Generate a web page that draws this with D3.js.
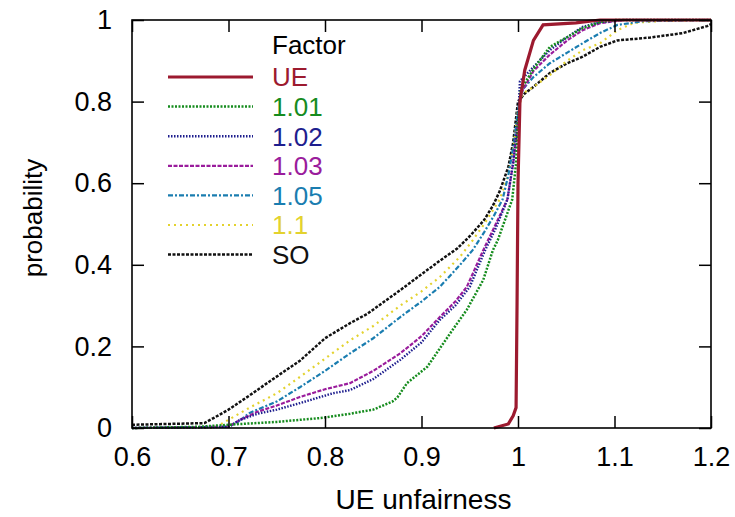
<!DOCTYPE html>
<html>
<head>
<meta charset="utf-8">
<script src="https://cdn.jsdelivr.net/npm/d3@7"></script>
<style>
  body { margin: 0; background: #ffffff; }
  svg { font-family: "Liberation Sans", Arial, Helvetica, sans-serif; }
</style>
</head>
<body>
<div id="chart"></div>
<script>
// series data: [UE unfairness, probability]
const factors = ["UE", "1.01", "1.02", "1.03", "1.05", "1.1", "SO"];

const ue = [[0.975, 0], [0.990, 0.01], [0.995, 0.03], [0.998, 0.05], [0.999, 0.3], [1.000, 0.6],
  [1.002, 0.8], [1.007, 0.877], [1.016, 0.95], [1.026, 0.988], [1.060, 0.993], [1.085, 1.0], [1.2, 1.0]];

const f101 = [[0.6, 0], [0.67, 0.003], [0.7, 0.008], [0.75, 0.015], [0.798, 0.025], [0.826, 0.035],
  [0.85, 0.045], [0.87, 0.065], [0.875, 0.075], [0.885, 0.11], [0.906, 0.15], [0.93, 0.233],
  [0.947, 0.29], [0.964, 0.363], [0.974, 0.436], [0.979, 0.46], [0.994, 0.56], [0.998, 0.65],
  [1.0, 0.75], [1.003, 0.83], [1.016, 0.88], [1.033, 0.934], [1.051, 0.958], [1.067, 0.98],
  [1.085, 0.995], [1.1, 1.0], [1.2, 1.0]];

const f102 = [[0.6, 0], [0.7, 0.003], [0.712, 0.02], [0.73, 0.035], [0.75, 0.045], [0.774, 0.061],
  [0.808, 0.085], [0.826, 0.093], [0.85, 0.12], [0.878, 0.167], [0.9, 0.21], [0.919, 0.265],
  [0.935, 0.3], [0.95, 0.346], [0.966, 0.436], [0.977, 0.49], [0.989, 0.56], [0.995, 0.65],
  [1.0, 0.75], [1.002, 0.85], [1.016, 0.885], [1.033, 0.926], [1.051, 0.958], [1.067, 0.983],
  [1.085, 0.995], [1.11, 1.0], [1.2, 1.0]];

const f103 = [[0.6, 0], [0.7, 0.003], [0.712, 0.02], [0.73, 0.04], [0.75, 0.055], [0.774, 0.076],
  [0.8, 0.095], [0.826, 0.11], [0.85, 0.14], [0.878, 0.183], [0.9, 0.225], [0.919, 0.272],
  [0.935, 0.31], [0.947, 0.346], [0.964, 0.436], [0.975, 0.49], [0.989, 0.56], [0.995, 0.65],
  [1.0, 0.75], [1.003, 0.82], [1.016, 0.875], [1.033, 0.915], [1.051, 0.95], [1.067, 0.975],
  [1.085, 0.992], [1.11, 1.0], [1.2, 1.0]];

const f105 = [[0.6, 0], [0.7, 0.003], [0.71, 0.015], [0.722, 0.037], [0.75, 0.065], [0.774, 0.1],
  [0.8, 0.14], [0.826, 0.183], [0.85, 0.22], [0.878, 0.272], [0.9, 0.31], [0.919, 0.346],
  [0.94, 0.4], [0.953, 0.436], [0.965, 0.48], [0.975, 0.52], [0.984, 0.56], [0.99, 0.62],
  [0.996, 0.7], [1.0, 0.78], [1.005, 0.83], [1.016, 0.86], [1.033, 0.894], [1.051, 0.92],
  [1.067, 0.943], [1.085, 0.968], [1.103, 0.988], [1.13, 0.997], [1.2, 1.0]];

const f110 = [[0.6, 0], [0.685, 0], [0.7, 0.02], [0.722, 0.05], [0.75, 0.085], [0.774, 0.125],
  [0.8, 0.17], [0.826, 0.215], [0.85, 0.25], [0.878, 0.3], [0.9, 0.335], [0.919, 0.37],
  [0.94, 0.42], [0.953, 0.46], [0.965, 0.5], [0.981, 0.56], [0.99, 0.62], [0.996, 0.7],
  [1.0, 0.78], [1.005, 0.82], [1.016, 0.836], [1.033, 0.865], [1.051, 0.9], [1.067, 0.926],
  [1.085, 0.943], [1.103, 0.975], [1.12, 0.993], [1.15, 0.998], [1.2, 1.0]];

const so = [[0.6, 0.008], [0.64, 0.01], [0.675, 0.012], [0.685, 0.025], [0.7, 0.045], [0.725, 0.085],
  [0.74, 0.11], [0.774, 0.165], [0.8, 0.22], [0.826, 0.257], [0.844, 0.28], [0.878, 0.338],
  [0.899, 0.375], [0.919, 0.41], [0.937, 0.44], [0.95, 0.47], [0.965, 0.51], [0.974, 0.545],
  [0.981, 0.58], [0.99, 0.64], [0.995, 0.7], [0.998, 0.76], [1.0, 0.8], [1.007, 0.82],
  [1.016, 0.836], [1.033, 0.87], [1.051, 0.894], [1.067, 0.91], [1.085, 0.934], [1.103, 0.95],
  [1.137, 0.957], [1.171, 0.968], [1.196, 0.985], [1.2, 0.99]];

const xTicks = [0.6, 0.7, 0.8, 0.9, 1, 1.1, 1.2];
const yTicks = [0, 0.2, 0.4, 0.6, 0.8, 1];

const width = 735, height = 517;
const margin = { top: 20, right: 24, bottom: 89, left: 132 };

const series = [
  { name: "SO", data: so, color: "#111111", dash: "3,1.5", w: 2.5 },
  { name: "1.1", data: f110, color: "#e3d22e", dash: "2,4", w: 2.2 },
  { name: "1.05", data: f105, color: "#1a7db0", dash: "5,2,2,2", w: 2.2 },
  { name: "1.03", data: f103, color: "#9a1c9c", dash: "4,1.5", w: 2.2 },
  { name: "1.02", data: f102, color: "#1e1e8e", dash: "1.5,1.5", w: 2.4 },
  { name: "1.01", data: f101, color: "#168c1e", dash: "2,1.5", w: 2.5 },
  { name: "UE", data: ue, color: "#9c1a2f", dash: null, w: 3.2 }
];

const svg = d3.select("#chart")
  .append("svg")
  .attr("width", width)
  .attr("height", height);

const x = d3.scaleLinear().domain([0.6, 1.2]).range([margin.left, width - margin.right]);
const y = d3.scaleLinear().domain([0, 1]).range([height - margin.bottom, margin.top]);

const line = d3.line()
  .x(d => x(d[0]))
  .y(d => y(d[1]));

// curves
svg.append("g")
  .selectAll("path")
  .data(series)
  .join("path")
  .attr("d", d => line(d.data))
  .attr("fill", "none")
  .attr("stroke", d => d.color)
  .attr("stroke-width", d => d.w)
  .attr("stroke-dasharray", d => d.dash);

// axes (ticks point inward, mirrored on top/right)
const tickLen = 12;
const fontSize = 27;

const xAxis = svg.append("g")
  .attr("transform", `translate(0,${y(0)})`)
  .call(d3.axisBottom(x).tickValues(xTicks).tickSize(-tickLen).tickPadding(tickLen + 7).tickFormat(d3.format("")));
xAxis.select(".domain").remove();

const xAxisTop = svg.append("g")
  .attr("transform", `translate(0,${y(1)})`)
  .call(d3.axisTop(x).tickValues(xTicks).tickSize(-tickLen).tickFormat(""));
xAxisTop.select(".domain").remove();

const yAxis = svg.append("g")
  .attr("transform", `translate(${x(0.6)},0)`)
  .call(d3.axisLeft(y).tickValues(yTicks).tickSize(-tickLen).tickPadding(tickLen + 8).tickFormat(d3.format("")));
yAxis.select(".domain").remove();

const yAxisRight = svg.append("g")
  .attr("transform", `translate(${x(1.2)},0)`)
  .call(d3.axisRight(y).tickValues(yTicks).tickSize(-tickLen).tickFormat(""));
yAxisRight.select(".domain").remove();

svg.selectAll(".tick line").attr("stroke", "#000").attr("stroke-width", 1.5);
svg.selectAll(".tick text")
  .attr("fill", "#000")
  .style("font-size", fontSize + "px")
  .style("font-family", "'Liberation Sans', Arial, sans-serif");

// frame
svg.append("rect")
  .attr("x", x(0.6))
  .attr("y", y(1))
  .attr("width", x(1.2) - x(0.6))
  .attr("height", y(0) - y(1))
  .attr("fill", "none")
  .attr("stroke", "#000")
  .attr("stroke-width", 1.6);

// axis titles
svg.append("text")
  .attr("x", (x(0.6) + x(1.2)) / 2 + 2)
  .attr("y", 509)
  .attr("text-anchor", "middle")
  .style("font-size", "28px")
  .text("UE unfairness");

svg.append("text")
  .attr("transform", `translate(42,${(y(0) + y(1)) / 2 - 6}) rotate(-90)`)
  .attr("text-anchor", "middle")
  .style("font-size", "26px")
  .text("probability");

// legend
const legend = svg.append("g").attr("class", "legend");
legend.append("text")
  .attr("x", 272)
  .attr("y", 54)
  .style("font-size", "26px")
  .text("Factor");

const legendOrder = factors.map(f => series.find(s => s.name === f));
const rows = legend.selectAll("g.row")
  .data(legendOrder)
  .join("g")
  .attr("class", "row")
  .attr("transform", (d, i) => `translate(0,${77 + i * 29.6})`);

rows.append("line")
  .attr("x1", 168)
  .attr("x2", 253)
  .attr("stroke", d => d.color)
  .attr("stroke-width", d => d.w)
  .attr("stroke-dasharray", d => d.dash);

rows.append("text")
  .attr("x", 272)
  .attr("dy", "0.36em")
  .attr("fill", d => d.color)
  .style("font-size", "26px")
  .text(d => d.name);
</script>
</body>
</html>
